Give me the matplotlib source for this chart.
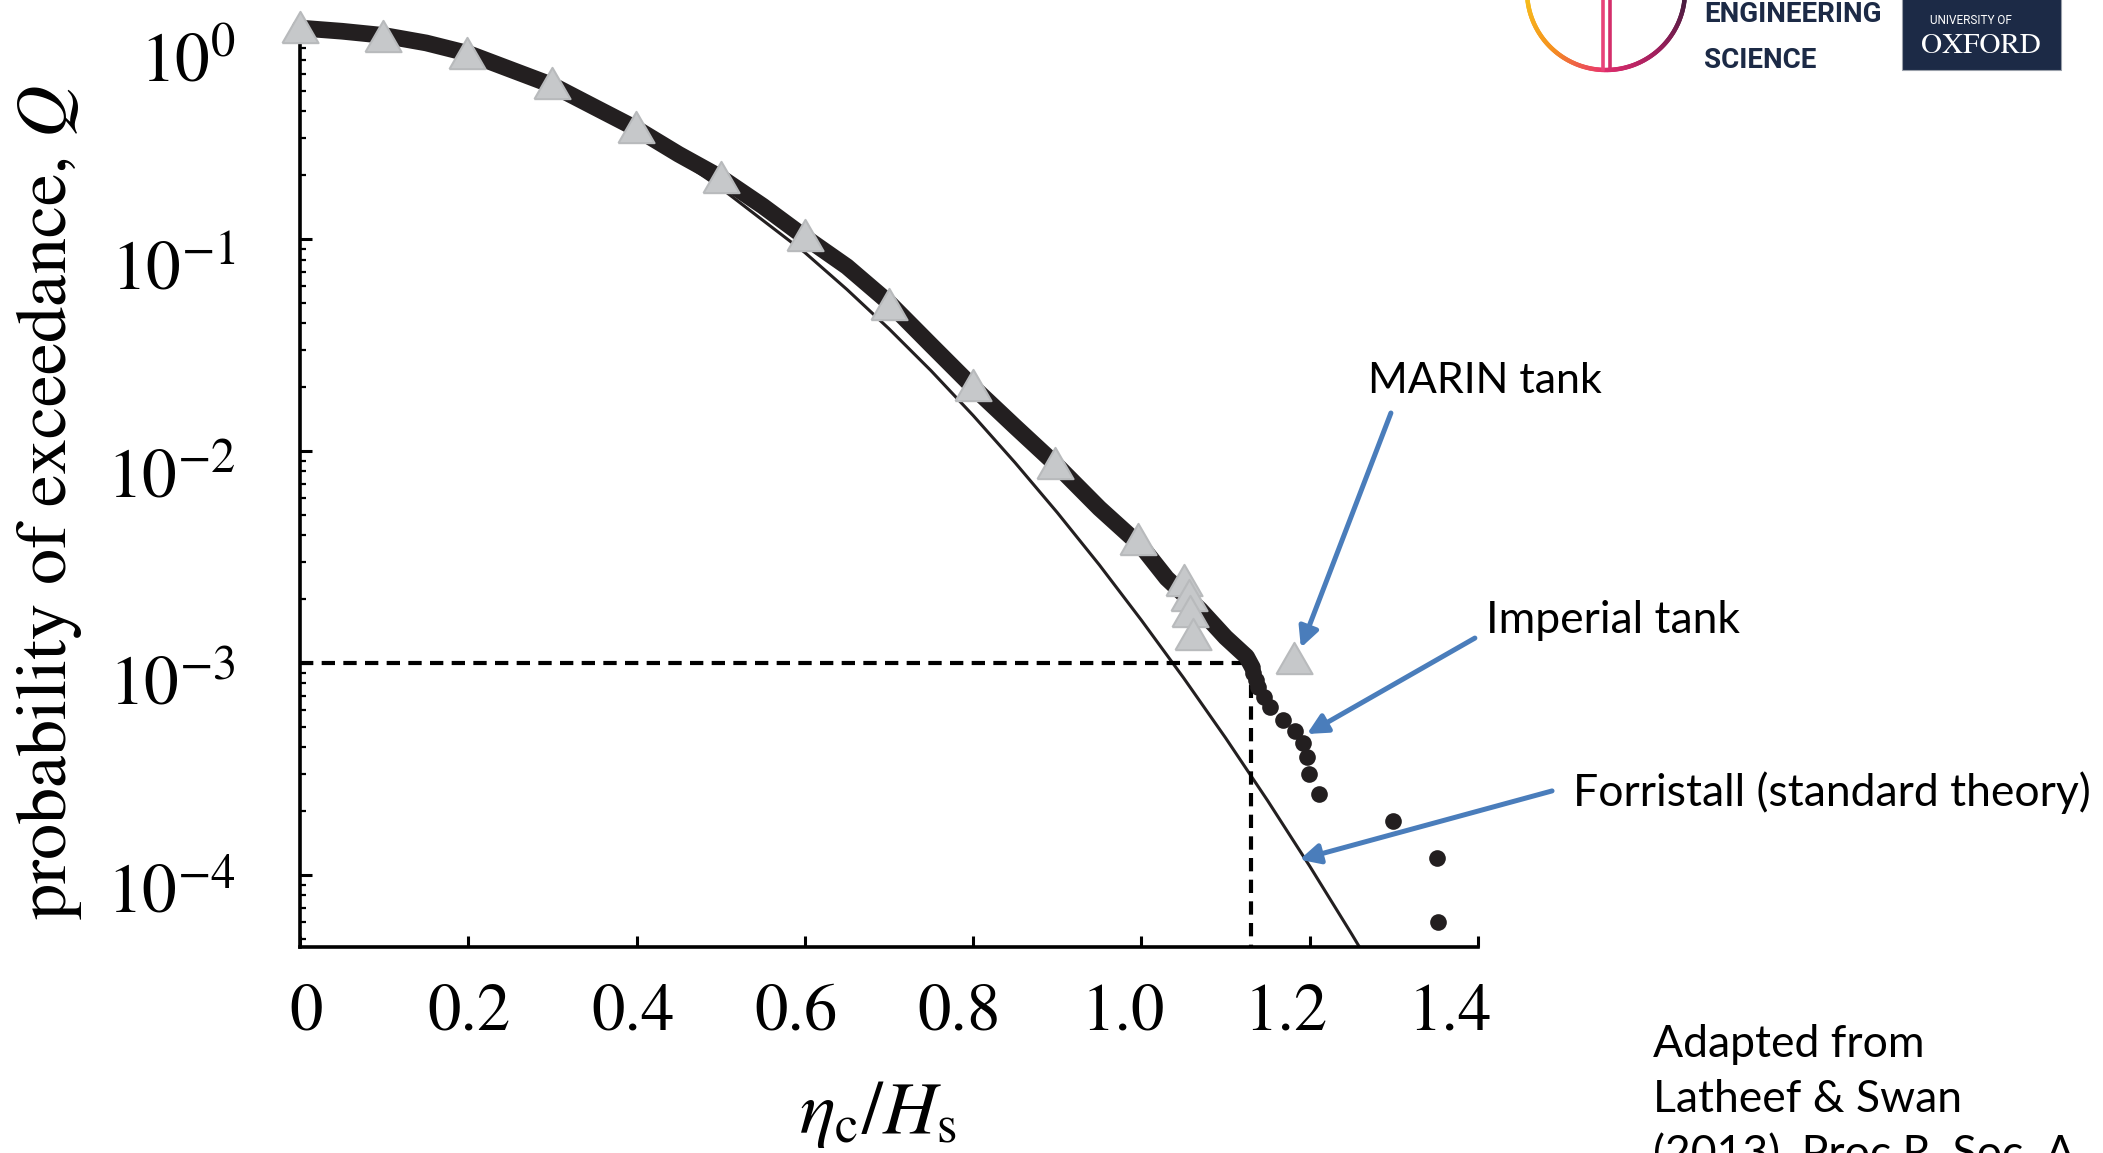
import numpy as np
import matplotlib.pyplot as plt
from matplotlib import font_manager
from matplotlib.collections import LineCollection
from matplotlib.colors import LinearSegmentedColormap
from matplotlib.patches import Rectangle
from matplotlib.ticker import NullFormatter
from matplotlib.transforms import ScaledTranslation

plt.rcParams['mathtext.fontset'] = 'stix'
plt.rcParams['font.family'] = ['STIXGeneral', 'DejaVu Serif']

# MARIN tank (grey triangles)
marin_x = [0.0, 0.099, 0.199, 0.299, 0.399, 0.5, 0.6, 0.7, 0.8, 0.897, 0.996,
           1.051, 1.056, 1.058, 1.061, 1.181]
marin_q = [1.0, 0.908, 0.758, 0.544, 0.339, 0.195, 0.104, 0.0495, 0.0204, 0.00877,
           0.00386, 0.00246, 0.00209, 0.00175, 0.00137, 0.00106]

# Imperial tank, dense part of the record (reads as a thick line)
imperial_x = [0.0, 0.05, 0.1, 0.15, 0.2, 0.25, 0.3, 0.35, 0.4, 0.45, 0.5, 0.55, 0.6,
              0.65, 0.7, 0.75, 0.8, 0.85, 0.9, 0.95, 1.0, 1.03, 1.07, 1.1, 1.125, 1.132]
imperial_q = [0.989, 0.955, 0.912, 0.841, 0.75, 0.631, 0.531, 0.419, 0.331, 0.251,
              0.195, 0.143, 0.102, 0.0741, 0.0501, 0.0316, 0.0200, 0.0130, 0.00851,
              0.00537, 0.00355, 0.00251, 0.00178, 0.00132, 0.00107, 0.00095]

# Imperial tank, single points in the tail
tail_x = [1.133, 1.136, 1.139, 1.146, 1.153, 1.168, 1.182, 1.192, 1.197, 1.199,
          1.211, 1.299, 1.351, 1.353]
tail_q = [9.0e-4, 8.3e-4, 7.7e-4, 6.9e-4, 6.2e-4, 5.4e-4, 4.8e-4, 4.2e-4, 3.6e-4,
          3.0e-4, 2.4e-4, 1.8e-4, 1.2e-4, 6.0e-5]

# Forristall (standard theory)
forr_x = [0.0, 0.1, 0.2, 0.3, 0.4, 0.5, 0.6, 0.65, 0.7, 0.75, 0.8, 0.85, 0.9, 0.95,
          1.0, 1.05, 1.1, 1.15, 1.2, 1.25, 1.27]
forr_q = [1.0, 0.923, 0.741, 0.519, 0.324, 0.174, 0.0863, 0.0578, 0.0377, 0.0239,
          0.0147, 0.00879, 0.00512, 0.00290, 0.00159, 0.000851, 0.000443, 0.000224,
          0.000110, 5.25e-5, 3.87e-5]

# 1-in-1000 level
q_level = 1e-3
x_level = 1.13

x_ticks = [0, 0.2, 0.4, 0.6, 0.8, 1.0, 1.2, 1.4]
x_tick_labels = ['0', '0.2', '0.4', '0.6', '0.8', '1.0', '1.2', '1.4']
y_ticks = [1e0, 1e-1, 1e-2, 1e-3, 1e-4]
y_tick_labels = [r'$10^{0}$', r'$10^{-1}$', r'$10^{-2}$', r'$10^{-3}$', r'$10^{-4}$']

W, H = 2103, 1153
dark = '#231f20'
blue = '#4a7dbb'

fig = plt.figure(figsize=(W / 100, H / 100), dpi=100)
ax = fig.add_axes([300 / W, 1 - 947 / H, 1178 / W, 920 / H])
ax.set_yscale('log')
ax.set_xlim(0, 1.4)
ax.set_ylim(4.57e-5, 1.0)

ax.plot(forr_x, forr_q, color=dark, lw=2.2, zorder=2)
ax.plot(imperial_x, imperial_q, color=dark, lw=12, solid_capstyle='round',
        solid_joinstyle='round', clip_on=False, zorder=3)
ax.plot(tail_x, tail_q, 'o', color=dark, ms=12, mew=0, clip_on=False, zorder=3)
tri = [(-1, -0.866), (1, -0.866), (0, 0.866), (-1, -0.866)]
ax.plot(marin_x, marin_q, ls='none', marker=tri, ms=26, mfc='#c6c8ca', mec='#b8babc',
        mew=1.5, clip_on=False, zorder=4)

y0 = ax.get_ylim()[0]
ax.plot([0, x_level], [q_level, q_level], color='black', lw=3, dashes=(3.2, 2.0), zorder=2)
ax.plot([x_level, x_level], [q_level, y0], color='black', lw=3, dashes=(3.2, 2.0), zorder=2)

ax.set_xticks(x_ticks, x_tick_labels)
ax.set_yticks(y_ticks, y_tick_labels)
ax.yaxis.set_minor_formatter(NullFormatter())
ax.tick_params(axis='y', which='major', direction='in', length=8.5, width=2.2, pad=46, labelsize=50)
ax.tick_params(axis='y', which='minor', direction='in', length=4.5, width=1.6)
ax.tick_params(axis='x', which='major', direction='in', length=8, width=2.2, pad=26, labelsize=48)
ax.spines[['top', 'right']].set_visible(False)
for s in ['left', 'bottom']:
    ax.spines[s].set_linewidth(2.6)

# the tick labels of the original sit a little off their ticks
for i, t in enumerate(ax.xaxis.get_major_ticks()):
    t.label1.set_transform(t.label1.get_transform() +
                           ScaledTranslation((6 - 4.9 * i) / 100, 0, fig.dpi_scale_trans))
for k, t in enumerate(ax.yaxis.get_major_ticks()):
    t.label1.set_transform(t.label1.get_transform() +
                           ScaledTranslation(0, -(31 - 4.25 * k) / 100, fig.dpi_scale_trans))

ax.set_ylabel('probability of exceedance, $Q$', fontsize=52, va='center')
ax.yaxis.set_label_coords(49 / W, 1 - 503 / H, transform=fig.transFigure)
ax.set_xlabel(r'$\eta_{\mathrm{c}}/H_{\mathrm{s}}$', fontsize=54, va='baseline')
ax.xaxis.set_label_coords(878 / W, 1 - 1133 / H, transform=fig.transFigure)

# annotations
arrows = [((1.2965, 0.0151), (1.1895, 0.00118)),
          ((1.3963, 0.00131), (1.1967, 4.62e-4)),
          ((1.488, 2.49e-4), (1.188, 1.18e-4))]
for tail, tip in arrows:
    ax.annotate('', xy=tip, xytext=tail, annotation_clip=False,
                arrowprops=dict(arrowstyle='-|>', color=blue, lw=3.6, mutation_scale=30,
                                shrinkA=0, shrinkB=0), zorder=6)

sans = ['Lato', 'DejaVu Sans']
fig.text(1368 / W, 1 - 393 / H, 'MARIN tank', family=sans, fontsize=31, va='baseline')
fig.text(1486 / W, 1 - 633 / H, 'Imperial tank', family=sans, fontsize=32, va='baseline')
fig.text(1573 / W, 1 - 806 / H, 'Forristall (standard theory)', family=sans, fontsize=32,
         va='baseline')
for i, line in enumerate(['Adapted from', 'Latheef & Swan', '(2013), Proc R. Soc. A']):
    fig.text(1653 / W, 1 - (1057 + 55 * i) / H, line, family=sans, fontsize=32, va='baseline')

# logos, top right
lg = fig.add_axes([0, 0, 1, 1])
lg.set_xlim(0, W)
lg.set_ylim(H, 0)
lg.axis('off')
cx, cy, r = 1606, -9, 79
for a0, a1, cols in [(174, 90, ['#f6bd1c', '#f5921e', '#e8356e']),
                     (90, 6, ['#de2c6c', '#9e1f5d', '#4a1c40'])]:
    t = np.radians(np.linspace(a0, a1, 80))
    pts = np.column_stack([cx + r * np.cos(t), cy + r * np.sin(t)])
    segs = np.stack([pts[:-1], pts[1:]], axis=1)
    cmap = LinearSegmentedColormap.from_list('arc', cols)
    lg.add_collection(LineCollection(segs, colors=cmap(np.linspace(0, 1, len(segs))),
                                     lw=3.2, capstyle='round'))
lg.plot([1603, 1603], [0, 69], color='#e8437a', lw=2.6)
lg.plot([1610, 1610], [0, 69], color='#d42e6b', lw=2.6)

names = {f.name for f in font_manager.fontManager.ttflist}
if 'Liberation Sans Narrow' in names:
    logo_font, logo_size = 'Liberation Sans Narrow', 24
else:
    logo_font, logo_size = 'Roboto', 20
navy = '#1c2a46'
fig.text(1704 / W, 1 - 22 / H, 'ENGINEERING', family=logo_font, weight='bold',
         fontsize=logo_size, color=navy, va='baseline')
fig.text(1704 / W, 1 - 68 / H, 'SCIENCE', family=logo_font, weight='bold',
         fontsize=logo_size, color=navy, va='baseline')
lg.add_patch(Rectangle((1902, -5), 159, 75, facecolor=navy, edgecolor='#9aa0aa', lw=0.8))
fig.text(1971 / W, 1 - 21 / H, 'UNIVERSITY OF', family=['Roboto', 'DejaVu Sans'],
         fontsize=8.5, color='white', ha='center', va='center')
fig.text(1981 / W, 1 - 53 / H, 'OXFORD', fontsize=21, color='white', ha='center',
         va='baseline')

fig.savefig('out.png', dpi=100)
